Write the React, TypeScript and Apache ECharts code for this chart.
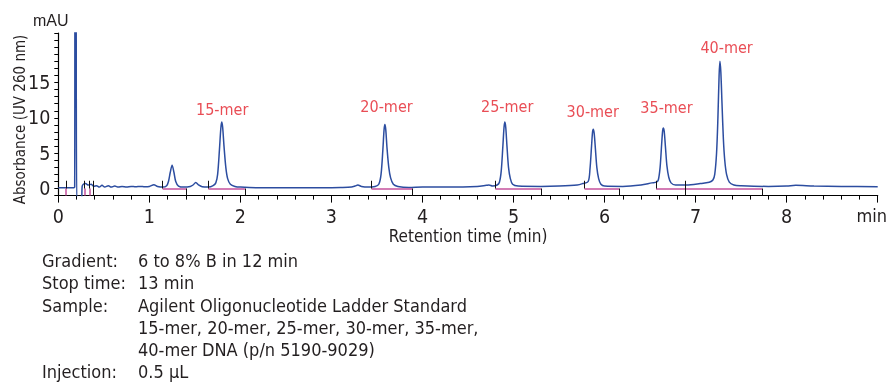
import React, { useEffect, useRef } from "react";
import * as echarts from "echarts";

// Chromatogram trace (retention time in min, absorbance in mAU)
const chromTime = [
  0, 0.1, 0.17, 0.18, 0.183, 0.19, 0.195, 0.205, 0.25, 0.262, 0.275,
  0.3, 0.33, 0.36, 0.39, 0.42, 0.45, 0.48, 0.51, 0.55, 0.58, 0.62, 0.66, 0.7, 0.75, 0.8, 0.85, 0.9, 0.95, 1.0, 1.05, 1.09, 1.15,
  1.19, 1.21, 1.23, 1.25, 1.27, 1.29, 1.32, 1.38, 1.45,
  1.48, 1.51, 1.54, 1.58, 1.65, 1.7,
  1.73, 1.75, 1.77, 1.785, 1.795, 1.805, 1.82, 1.84, 1.86, 1.89, 1.94, 2.0,
  2.2, 2.5, 2.8, 3.1, 3.22,
  3.26, 3.29, 3.33, 3.4, 3.48,
  3.52, 3.545, 3.565, 3.578, 3.587, 3.597, 3.61, 3.63, 3.65, 3.68, 3.73, 3.85,
  4.0, 4.3, 4.6, 4.7, 4.73, 4.77, 4.82,
  4.845, 4.865, 4.883, 4.896, 4.905, 4.915, 4.928, 4.945, 4.965, 4.99, 5.05, 5.3, 5.5, 5.7, 5.76,
  5.82, 5.84, 5.857, 5.868, 5.876, 5.886, 5.9, 5.915, 5.935, 5.96, 6.0, 6.2, 6.4, 6.52, 6.57,
  6.59, 6.61, 6.627, 6.638, 6.645, 6.655, 6.668, 6.685, 6.705, 6.73, 6.78, 6.9, 7.05, 7.15, 7.19,
  7.21, 7.23, 7.245, 7.258, 7.267, 7.277, 7.29, 7.305, 7.32, 7.34, 7.37, 7.42, 7.5, 7.8, 8.0, 8.1, 8.3, 8.6, 9.0,
];
const chromAbs = [
  0.1, 0.1, 0.1, 0.2, 30, 20, 30, -3, -3, 0.3, 0.6,
  0.7, 0.5, 0.6, 0.3, 0.4, 0.2, 0.45, 0.2, 0.4, 0.2, 0.35, 0.2, 0.3, 0.2, 0.3, 0.25, 0.3, 0.25, 0.3, 0.55, 0.3, 0.2,
  0.4, 1.0, 2.3, 3.3, 2.3, 1.0, 0.35, 0.2, 0.3,
  0.5, 0.85, 0.5, 0.25, 0.2, 0.4,
  0.8, 2.0, 5.5, 8.5, 9.4, 8.7, 6.0, 3.0, 1.4, 0.6, 0.3, 0.2,
  0.1, 0.1, 0.1, 0.15, 0.2,
  0.35, 0.5, 0.3, 0.2, 0.3,
  0.6, 2.0, 5.5, 8.3, 9.05, 8.3, 5.8, 3.0, 1.5, 0.6, 0.3, 0.15,
  0.2, 0.2, 0.3, 0.45, 0.5, 0.35, 0.5,
  0.9, 2.5, 6.0, 8.7, 9.4, 8.6, 6.0, 3.0, 1.4, 0.6, 0.35, 0.3, 0.35, 0.5, 0.7,
  1.0, 2.8, 6.0, 8.0, 8.4, 7.8, 5.5, 3.0, 1.4, 0.6, 0.35, 0.3, 0.5, 0.8, 0.9,
  1.2, 3.0, 6.3, 8.2, 8.55, 8.1, 6.0, 3.2, 1.6, 0.8, 0.5, 0.5, 0.7, 0.9, 1.2,
  2.0, 5.0, 10, 16, 18, 16.5, 12, 7.0, 4.0, 2.0, 0.9, 0.5, 0.4, 0.3, 0.35, 0.45, 0.35, 0.3, 0.25,
];

// Peak annotations
const peakNames = ["15-mer", "20-mer", "25-mer", "30-mer", "35-mer", "40-mer"];
const peakLabelTime = [1.8, 3.605, 4.93, 5.87, 6.68, 7.34];
const peakLabelAbs = [11.2, 11.64, 11.64, 10.93, 11.41, 19.9];

// Integration events
const peakStarts = [1.147, 1.648, 3.44, 4.8, 5.78, 6.565];
const peakEnds = [1.41, 2.05, 3.89, 5.305, 6.16, 7.73];
const splitMarks = [0.385, 6.887];
const earlyMarks = [0.085, 0.29, 0.345];
const baselineFrom = [1.147, 1.648, 3.44, 4.8, 5.78, 6.565, 6.887];
const baselineTo = [1.41, 2.05, 3.89, 5.305, 6.16, 6.887, 7.73];

// Axis
const yMin = -1;
const yMax = 22;
const yLabelValues = [0, 5, 10, 15];
const xMin = 0;
const xMax = 9;

// Method notes
const noteKeys = ["Gradient:", "Stop time:", "Sample:", "", "", "Injection:"];
const noteValues = [
  "6 to 8% B in 12 min",
  "13 min",
  "Agilent Oligonucleotide Ladder Standard",
  "15-mer, 20-mer, 25-mer, 30-mer, 35-mer,",
  "40-mer DNA (p/n 5190-9029)",
  "0.5 µL",
];

const TEXT = "#231f20";
const NARROW = "'DejaVu Sans Condensed', 'Liberation Sans Narrow', Roboto, sans-serif";
const REG = "'Liberation Sans', Arial, sans-serif";

export default function App() {
  const ref = useRef<HTMLDivElement>(null);
  useEffect(() => {
    if (!ref.current) return;
    const chart = echarts.init(ref.current, undefined, { renderer: "svg" });

    const trace = chromTime.map((t, i) => [t, chromAbs[i]]);
    const labels = peakNames.map((n, i) => ({ name: n, value: [peakLabelTime[i], peakLabelAbs[i]] }));

    const blackMarks: any[] = [];
    peakStarts.forEach((x) => blackMarks.push([{ coord: [x, 0] }, { coord: [x, 1.1] }]));
    peakEnds.forEach((x) => blackMarks.push([{ coord: [x, 0] }, { coord: [x, -1] }]));
    splitMarks.forEach((x) => blackMarks.push([{ coord: [x, 1.1] }, { coord: [x, -1] }]));
    earlyMarks.forEach((x) => blackMarks.push([{ coord: [x, 0] }, { coord: [x, 1.1] }]));

    const pinkMarks: any[] = [];
    baselineFrom.forEach((x, i) => pinkMarks.push([{ coord: [x, 0] }, { coord: [baselineTo[i], 0] }]));
    earlyMarks.forEach((x) => pinkMarks.push([{ coord: [x, 0] }, { coord: [x, -1] }]));

    const lineY = [260.5, 282.8, 305, 327.3, 349.6, 371.8];
    const notes: any[] = [];
    noteValues.forEach((v, i) => {
      const y = lineY[i];
      if (noteKeys[i])
        notes.push({
          type: "text",
          x: 42,
          y,
          style: { text: noteKeys[i], font: `18px ${NARROW}`, fill: TEXT, verticalAlign: "middle" },
        });
      notes.push({
        type: "text",
        x: 138,
        y,
        style: { text: v, font: `18px ${NARROW}`, fill: TEXT, verticalAlign: "middle" },
      });
    });

    chart.setOption({
      animation: false,
      grid: { left: 58.3, right: 11.3, top: 33, bottom: 186.4, containLabel: false, outerBoundsMode: "none" },
      xAxis: {
        type: "value",
        min: xMin,
        max: xMax,
        interval: 1,
        name: "Retention time (min)",
        nameLocation: "middle",
        nameGap: 27,
        nameTextStyle: { color: TEXT, fontFamily: NARROW, fontSize: 17 },
        axisLine: { onZero: false, lineStyle: { color: "#000", width: 1.2 } },
        axisTick: { length: 7, lineStyle: { color: "#000", width: 1 } },
        minorTick: { show: true, splitNumber: 5, length: 4, lineStyle: { color: "#000", width: 1 } },
        splitLine: { show: false },
        axisLabel: {
          margin: 11,
          color: TEXT,
          fontFamily: NARROW,
          fontSize: 19.5,
          formatter: (v: number) => (v === xMax ? "{m|min}" : String(v)),
          rich: { m: { fontFamily: NARROW, fontSize: 18, color: TEXT, padding: [0, 12, 0, 0] } },
        },
      },
      yAxis: {
        type: "value",
        min: yMin,
        max: yMax,
        interval: 1,
        axisLine: { show: true, onZero: false, lineStyle: { color: "#000", width: 1.2 } },
        axisTick: { show: true, length: 4, lineStyle: { color: "#000", width: 1 } },
        splitLine: { show: false },
        axisLabel: {
          margin: 8,
          color: TEXT,
          fontFamily: NARROW,
          fontSize: 19.5,
          formatter: (v: number) => (yLabelValues.includes(v) ? String(v) : ""),
        },
      },
      graphic: [
        {
          type: "text",
          x: 20,
          y: 119.5,
          rotation: Math.PI / 2,
          style: {
            text: "Absorbance (UV 260 nm)",
            font: `15px ${NARROW}`,
            fill: TEXT,
            align: "center",
            verticalAlign: "middle",
          },
        },
        {
          type: "text",
          x: 33,
          y: 20,
          style: { text: "mAU", font: `16px ${REG}`, fill: TEXT, align: "left", verticalAlign: "middle" },
        },
        ...notes,
      ],
      series: [
        {
          type: "line",
          data: [],
          silent: true,
          markLine: {
            silent: true,
            symbol: ["none", "none"],
            label: { show: false },
            lineStyle: { color: "#c4509c", width: 1.5, type: "solid" },
            data: pinkMarks,
          },
        },
        {
          type: "line",
          data: [],
          silent: true,
          markLine: {
            silent: true,
            symbol: ["none", "none"],
            label: { show: false },
            lineStyle: { color: "#111", width: 1, type: "solid" },
            data: blackMarks,
          },
        },
        {
          type: "line",
          data: trace,
          showSymbol: false,
          symbol: "none",
          smooth: 0.3,
          clip: true,
          lineStyle: { color: "#2c4da0", width: 1.5 },
        },
        {
          type: "scatter",
          data: labels,
          symbolSize: 0,
          label: {
            show: true,
            position: "inside",
            formatter: (p: any) => p.name,
            color: "#e3202a",
            fontFamily: NARROW,
            fontSize: 16,
          },
        },
      ],
    });
    return () => chart.dispose();
  }, []);
  return <div ref={ref} style={{ position: "fixed", left: 0, top: 0, width: 889, height: 382 }} />;
}
